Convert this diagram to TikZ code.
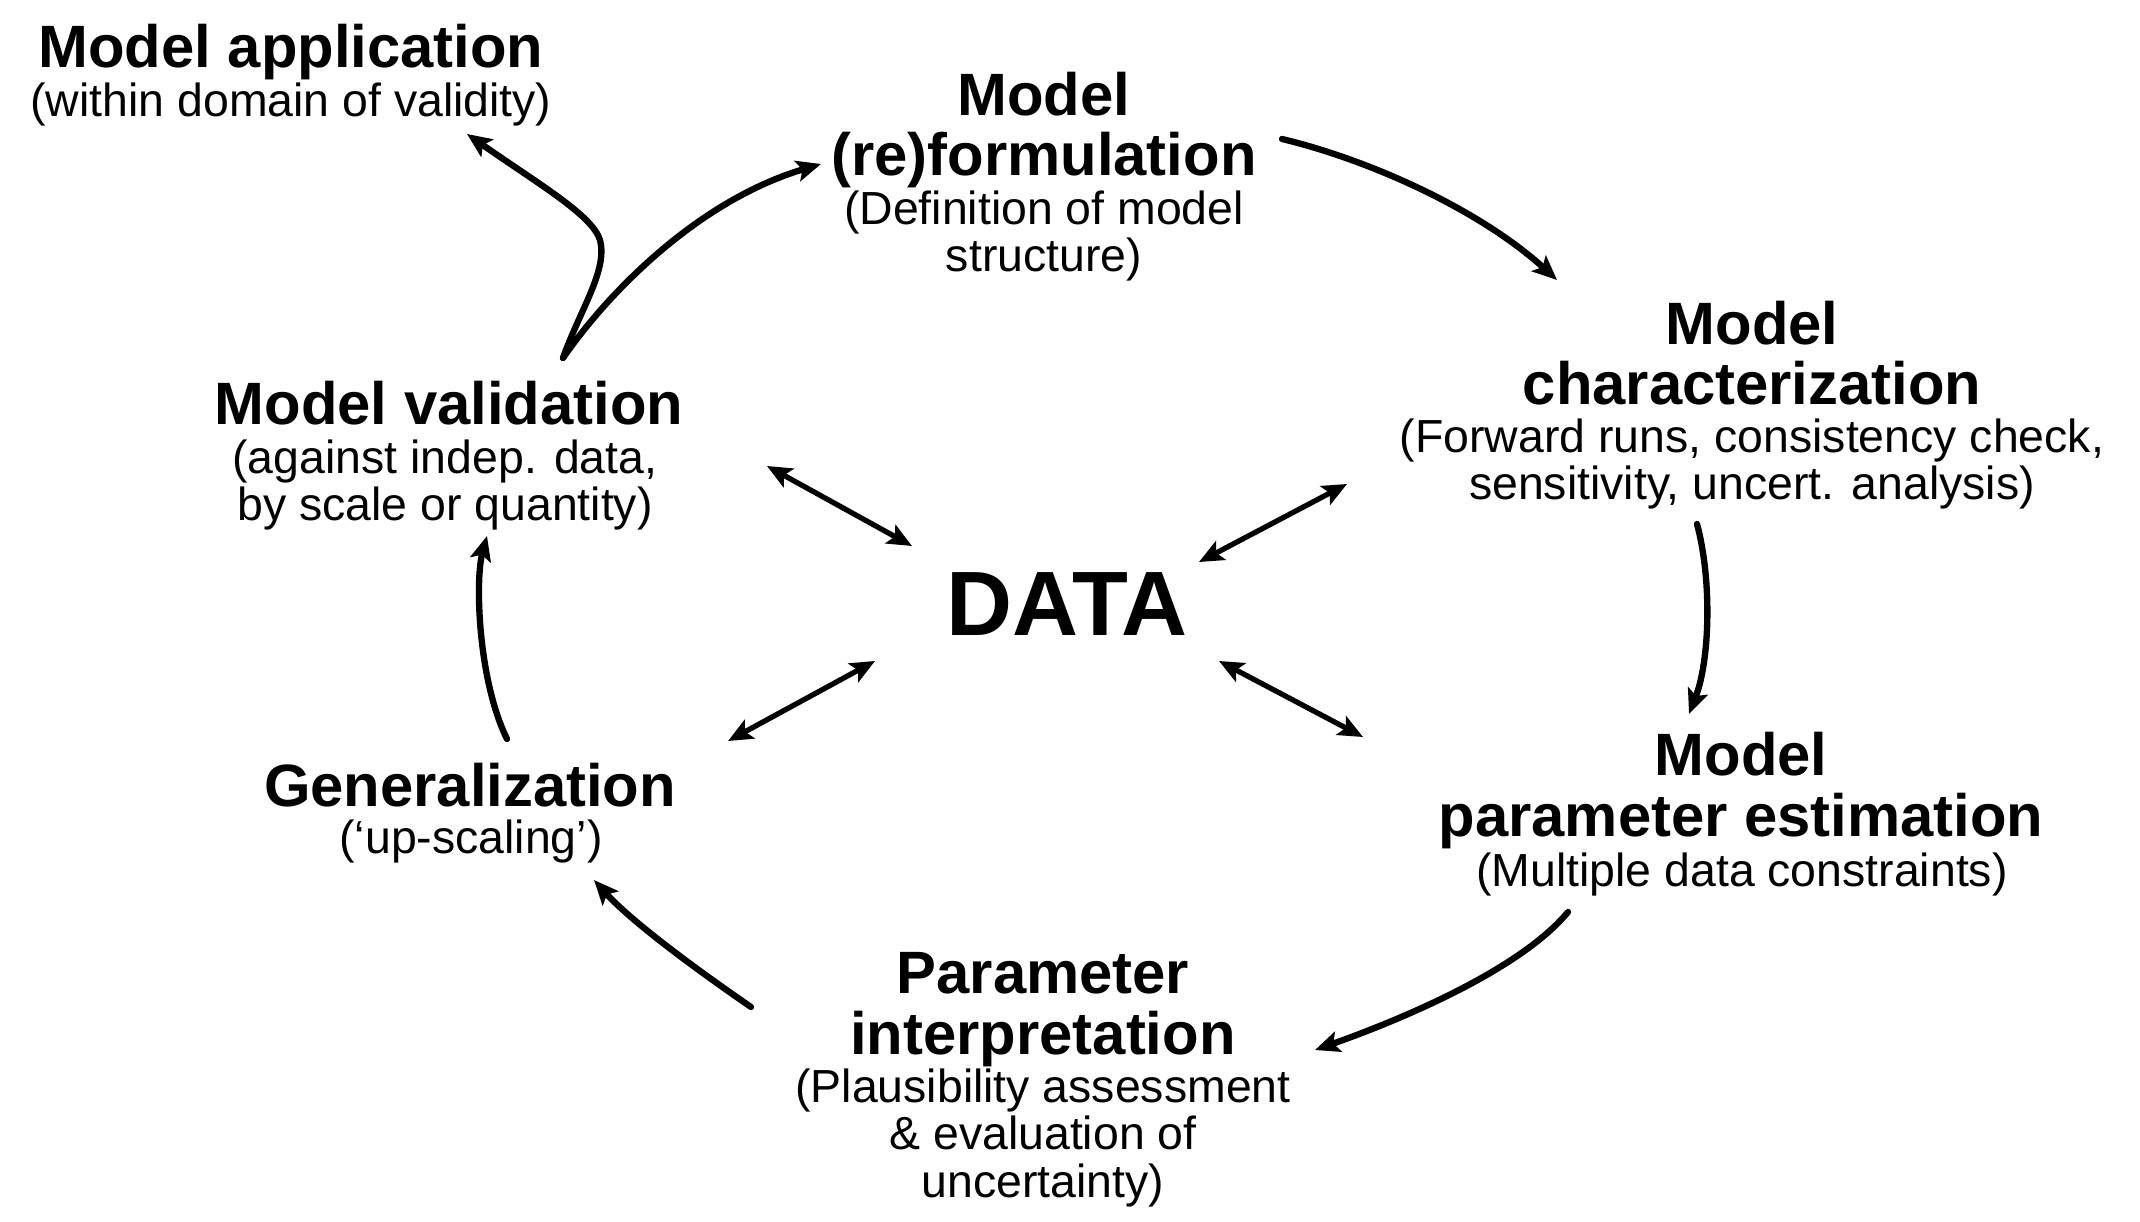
\documentclass[tikz,border=0pt]{standalone}
\usepackage{fontspec}
\setmainfont{Liberation Sans}
\usetikzlibrary{arrows.meta}

\tikzset{
  ttl/.style={font=\fontsize{17}{17.2}\selectfont\bfseries, align=center, anchor=base, inner sep=0pt},
  subtxt/.style={font=\fontsize{13.2}{13.4}\selectfont, align=center, anchor=base, inner sep=0pt},
  flow/.style={->, line width=1.8pt},
  link/.style={<->, line width=1.5pt}
}

\begin{document}
\begin{tikzpicture}[x=0.01cm, y=-0.01cm, line join=round, line cap=round, >={Stealth[length=7pt,width=6pt,inset=1.5pt]}]
  \useasboundingbox (0,0) rectangle (2140,1222);

  % blocks round the cycle (base = last line)
  \node[ttl] (appl) at (291,68) {Model application};
  \node[subtxt] (applsub) at (291,117) {(within domain of validity)};

  \node[ttl] (form) at (1044,176) {Model\\(re)formulation};
  \node[subtxt] (formsub) at (1044,272) {(Definition of model\\structure)};

  \node[ttl] (char) at (1752,405) {Model\\characterization};
  \node[subtxt] (charsub) at (1752,500) {(Forward runs, consistency check,\\sensitivity, uncert. analysis)};

  \node[ttl] (valid) at (449,425) {Model validation};
  \node[subtxt] (validsub) at (445,521) {(against indep. data,\\by scale or quantity)};

  \node[font=\fontsize{26}{28}\selectfont\bfseries, anchor=base, inner sep=0pt] (data) at (1067,636) {DATA};

  \node[ttl] (gen) at (470,806) {Generalization};
  \node[subtxt] (gensub) at (471,853) {(‘up-scaling’)};

  \node[ttl] (est) at (1741,836) {Model\\parameter estimation};
  \node[subtxt] (estsub) at (1742,886) {(Multiple data constraints)};

  \node[ttl] (interp) at (1043,1054) {Parameter\\interpretation};
  \node[subtxt] (interpsub) at (1043,1197) {(Plausibility assessment\\\& evaluation of\\uncertainty)};

  % cycle arrows
  \draw[flow] ([shift={(114,-67)}]valid.base) .. controls (580,310) and (608,270) .. (600,240)
    .. controls (592,215) and (540,185) .. ([shift={(176,17)}]applsub.base);
  \draw[flow] ([shift={(114,-67)}]valid.base) .. controls (610,290) and (700,200) .. ([shift={(-223,-12)}]form.base);
  \draw[flow] ([shift={(238,-37)}]form.base) .. controls (1370,160) and (1480,210) .. ([shift={(-195,-125)}]char.base);
  \draw[flow] ([shift={(-55,24)}]charsub.base) .. controls (1712,580) and (1710,660) .. ([shift={(-52,-122)}]est.base);
  \draw[flow] ([shift={(-174,26)}]estsub.base) .. controls (1520,970) and (1400,1020) .. ([shift={(272,-4)}]interp.base);
  \draw[flow] ([shift={(-292,-47)}]interp.base) .. controls (690,965) and (630,920) .. ([shift={(123,27)}]gensub.base);
  \draw[flow] ([shift={(37,-67)}]gen.base) .. controls (478,680) and (475,580) .. ([shift={(42,15)}]validsub.base);

  % links with the data
  \draw[link] ([shift={(322,-55)}]validsub.base) -- ([shift={(-155,-90)}]data.base);
  \draw[link] ([shift={(-405,-16)}]charsub.base) -- ([shift={(132,-74)}]data.base);
  \draw[link] ([shift={(-192,25)}]data.base) -- ([shift={(258,-65)}]gen.base);
  \draw[link] ([shift={(152,25)}]data.base) -- ([shift={(-378,-99)}]est.base);
\end{tikzpicture}
\end{document}
